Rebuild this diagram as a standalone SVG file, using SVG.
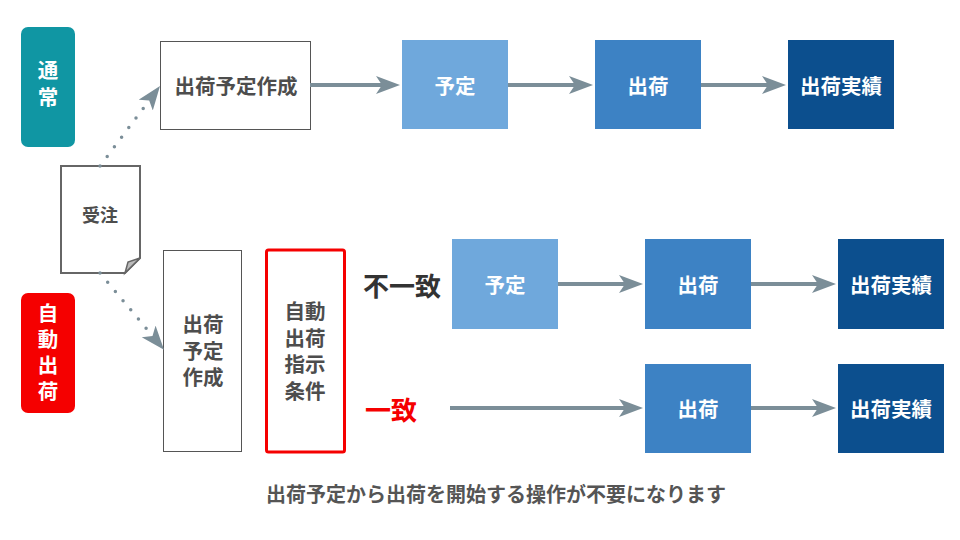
<svg xmlns="http://www.w3.org/2000/svg" width="960" height="540" viewBox="0 0 960 540">
<style>
text{font-family:"Noto Sans CJK JP","Noto Sans",sans-serif;font-weight:bold;text-anchor:middle;dominant-baseline:central}
.w{fill:#fff;font-size:20.5px}
.g{fill:#4d4d4d;font-size:20.5px}
.v{writing-mode:vertical-rl;text-orientation:upright;dominant-baseline:auto;text-anchor:middle}
.st{font-family:"Liberation Sans","Noto Sans CJK JP",sans-serif;dominant-baseline:auto}
.ln{stroke:#7b8e98;stroke-width:4;fill:none}
.dot{stroke:#7b8e98;stroke-width:3.5;fill:none;stroke-dasharray:0 12;stroke-linecap:round}
.p1{fill:#6fa8dc}.p2{fill:#3d82c4}.p3{fill:#0c4f8e}
</style>
<defs>
<marker id="ah" markerUnits="userSpaceOnUse" markerWidth="26" markerHeight="20" refX="6" refY="9" orient="auto" viewBox="0 0 26 20">
<path d="M0,0 L24,9 L0,18 L6,9 Z" fill="#7b8e98"/>
</marker>
</defs>
<rect width="960" height="540" fill="#fff"/>

<g id="tsujo">
<rect x="21" y="27" width="54" height="120" rx="7" fill="#1096a3"/>
<text class="w v" x="48" y="86.5" style="letter-spacing:6px">通常</text>
</g>
<g id="jidou">
<rect x="21" y="293" width="54" height="120" rx="7" fill="#f50000"/>
<text class="w v" x="48" y="354.5" style="letter-spacing:5.5px">自動出荷</text>
</g>

<g id="juchu">
<path d="M61,166 H140 V258 L125,273 H61 Z" fill="#fff" stroke="#666" stroke-width="2"/>
<path d="M125,273 L128,262 L140,258 Z" fill="#bbb" stroke="#666" stroke-width="1.5"/>
<text class="g" x="100" y="214" style="font-size:18px">受注</text>
</g>

<g id="yotei-sakusei-top">
<rect x="160.5" y="41.5" width="150" height="88" fill="#fff" stroke="#555" stroke-width="1"/>
<text class="g" x="236" y="85">出荷予定作成</text>
</g>
<g id="yotei-top"><rect class="p1" x="402" y="40" width="106" height="89"/><text class="w" x="455" y="85">予定</text></g>
<g id="shukka-top"><rect class="p2" x="595" y="40" width="106" height="89"/><text class="w" x="648" y="85">出荷</text></g>
<g id="jisseki-top"><rect class="p3" x="788" y="40" width="106" height="89"/><text class="w" x="841" y="85">出荷実績</text></g>

<g id="yotei-sakusei-bottom">
<rect x="163.5" y="250.5" width="78" height="201" fill="#fff" stroke="#555" stroke-width="1"/>
<text class="g st" x="203" y="332">出荷<tspan x="203" y="359">予定</tspan><tspan x="203" y="385">作成</tspan></text>
</g>
<g id="jouken">
<rect x="266.5" y="250" width="78" height="202" rx="2" fill="#fff" stroke="#f50000" stroke-width="3"/>
<text class="g st" x="305" y="319">自動<tspan x="305" y="346">出荷</tspan><tspan x="305" y="372">指示</tspan><tspan x="305" y="399">条件</tspan></text>
</g>
<text x="402" y="284" style="fill:#333;font-size:26px">不一致</text>
<text x="391" y="408" style="fill:#f50000;font-size:26px">一致</text>

<g id="yotei-r1"><rect class="p1" x="452" y="239" width="106" height="90"/><text class="w" x="505" y="284">予定</text></g>
<g id="shukka-r1"><rect class="p2" x="645" y="239" width="106" height="90"/><text class="w" x="698" y="284">出荷</text></g>
<g id="jisseki-r1"><rect class="p3" x="838" y="239" width="106" height="90"/><text class="w" x="891" y="284">出荷実績</text></g>
<g id="shukka-r2"><rect class="p2" x="645" y="364" width="106" height="89"/><text class="w" x="698" y="408">出荷</text></g>
<g id="jisseki-r2"><rect class="p3" x="838" y="364" width="106" height="89"/><text class="w" x="891" y="408">出荷実績</text></g>

<g id="connectors">
<path class="dot" d="M100,166 L149.2,100.4" marker-end="url(#ah)"/>
<path class="dot" d="M100,273 L152.5,336" marker-end="url(#ah)"/>
<path class="ln" d="M310,85 H382" marker-end="url(#ah)"/>
<path class="ln" d="M508,85 H575" marker-end="url(#ah)"/>
<path class="ln" d="M701,85 H768" marker-end="url(#ah)"/>
<path class="ln" d="M558,284 H625" marker-end="url(#ah)"/>
<path class="ln" d="M751,284 H818" marker-end="url(#ah)"/>
<path class="ln" d="M450,408 H625" marker-end="url(#ah)"/>
<path class="ln" d="M751,408 H818" marker-end="url(#ah)"/>
</g>

<text x="496" y="493" style="fill:#555;font-size:20px">出荷予定から出荷を開始する操作が不要になります</text>
</svg>
